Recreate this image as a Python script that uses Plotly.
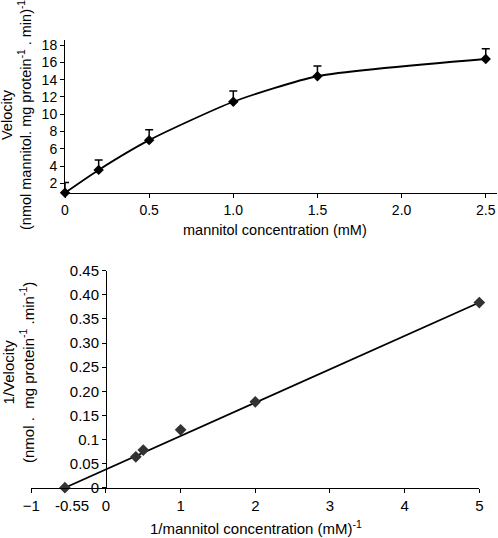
import plotly.graph_objects as go

# ---- data: top panel (Michaelis-Menten) ----
conc = [0, 0.2, 0.5, 1.0, 1.5, 2.5]
velocity = [0.9, 3.55, 7.0, 11.45, 14.4, 16.4]
vel_err = [1.2, 1.15, 1.2, 1.25, 1.2, 1.2]
top_xticks = [0, 0.5, 1.0, 1.5, 2.0, 2.5]
top_xtext = ["0", "0.5", "1.0", "1.5", "2.0", "2.5"]
top_yticks = [2, 4, 6, 8, 10, 12, 14, 16, 18]

# ---- data: bottom panel (Lineweaver-Burk) ----
inv_conc = [-0.55, 0.4, 0.5, 1, 2, 5]
inv_vel = [0.0, 0.064, 0.078, 0.12, 0.178, 0.384]
fit_x = [-0.55, 5]
fit_y = [0.0, 0.384]
bot_xticks = [-1, 0, 1, 2, 3, 4, 5]
bot_yticks = [0, 0.05, 0.1, 0.15, 0.2, 0.25, 0.3, 0.35, 0.4, 0.45]
bot_ytext = ["0", "0.05", "0.1", "0.15", "0.20", "0.25", "0.30", "0.35", "0.40", "0.45"]

W, H = 498, 538
def px(x): return x / W
def py(y): return 1 - y / H

FONT = "Arial, Liberation Sans, sans-serif"

fig = go.Figure()

fig.add_trace(go.Scatter(
    x=conc, y=velocity, mode="lines+markers",
    line=dict(color="black", width=1.8, shape="spline", smoothing=0.6),
    marker=dict(symbol="diamond", size=8, color="black"),
    error_y=dict(type="data", symmetric=False, array=vel_err,
                 arrayminus=[0] * len(vel_err), color="black", thickness=1.5, width=4),
    cliponaxis=False, xaxis="x", yaxis="y", showlegend=False))

fig.add_trace(go.Scatter(
    x=fit_x, y=fit_y, mode="lines",
    line=dict(color="black", width=1.8),
    cliponaxis=False, xaxis="x2", yaxis="y2", showlegend=False))

fig.add_trace(go.Scatter(
    x=inv_conc, y=inv_vel, mode="markers",
    marker=dict(symbol="diamond", size=9, color="#333333"),
    cliponaxis=False, xaxis="x2", yaxis="y2", showlegend=False))

def axis_common(fs):
    return dict(showgrid=False, zeroline=False, showline=True, linecolor="black",
                linewidth=1, ticks="outside", ticklen=4, tickcolor="black",
                automargin=False,
                tickfont=dict(family=FONT, size=fs, color="black"))

fig.update_layout(
    template="none",
    width=W, height=H, margin=dict(l=0, r=0, t=0, b=0, pad=0),
    paper_bgcolor="white", plot_bgcolor="white",
    font=dict(family=FONT, size=14, color="black"),
    xaxis=dict(domain=[px(65), px(497)], range=[0, (497 - 65) / 168.3], anchor="y",
               tickvals=top_xticks, ticktext=top_xtext, **axis_common(14)),
    yaxis=dict(domain=[py(193.3), py(40)], range=[0.84, 18.6], anchor="x",
               tickvals=top_yticks, **axis_common(14)),
    xaxis2=dict(domain=[px(31.3), px(479.3)], range=[-1, 5], anchor="y2",
                tickvals=bot_xticks, **axis_common(15)),
    yaxis2=dict(domain=[py(487.7), py(270.7)], range=[0, 0.45], anchor="free",
                position=px(106), tickvals=bot_yticks, ticktext=bot_ytext, **axis_common(15)),
)

ann = [
    dict(text="Velocity<br>(nmol mannitol. mg protein<sup>-1</sup> . min)<sup>-1</sup>",
         x=px(17), y=py(115), textangle=-90, size=14.5),
    dict(text="mannitol concentration (mM)", x=px(275), y=py(230), size=14.5),
    dict(text="1/Velocity<br>(nmol .  mg protein<sup>-1</sup> .min<sup>-1</sup>)",
         x=px(18), y=py(373), textangle=-90, size=15),
    dict(text="1/mannitol concentration (mM)<sup>-1</sup>", x=px(256), y=py(527), size=15),
    dict(text="-0.55", x=px(71.7), y=py(505), size=15),
]
for a in ann:
    s = a.pop("size")
    fig.add_annotation(xref="paper", yref="paper", showarrow=False,
                       xanchor="center", yanchor="middle",
                       font=dict(family=FONT, size=s, color="black"), **a)

fig.write_html("out.html", config={"displayModeBar": False},
               post_script="document.body.style.margin='0';document.body.style.overflow='hidden';")
